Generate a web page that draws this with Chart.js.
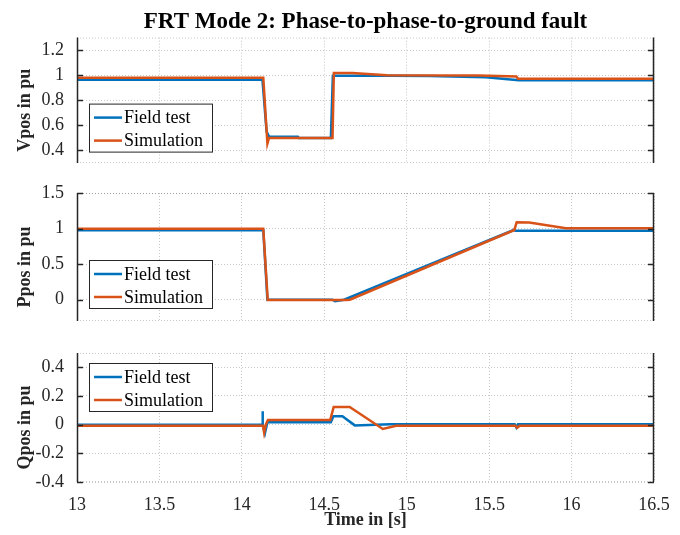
<!DOCTYPE html>
<html>
<head>
<meta charset="utf-8">
<script src="https://cdn.jsdelivr.net/npm/chart.js@4.4.0/dist/chart.umd.min.js"></script>
<style>
body { margin: 0; background: #fff; }
#wrap { position: relative; width: 680px; height: 535px; }
canvas { position: absolute; left: 0; }
</style>
</head>
<body>
<div id="wrap">
  <canvas id="cV" width="680" height="170" style="top:0px"></canvas>
  <canvas id="cP" width="680" height="150" style="top:180px"></canvas>
  <canvas id="cQ" width="680" height="195" style="top:340px"></canvas>
</div>
<script>
// time axis
var timeTicks = [13, 13.5, 14, 14.5, 15, 15.5, 16, 16.5];
var seriesNames = ['Field test', 'Simulation'];

// Vpos (pu)
var vFieldT = [13, 14.125, 14.15, 14.165, 14.34, 14.345, 14.54, 14.552, 14.9, 15.14, 15.48, 15.68, 16.5];
var vFieldY = [0.963, 0.963, 0.55, 0.51, 0.51, 0.5, 0.5, 0.995, 0.995, 0.994, 0.984, 0.96, 0.96];
var vSimT = [13, 14.13, 14.155, 14.165, 14.55, 14.558, 14.67, 14.88, 15.44, 15.665, 15.675, 16.5];
var vSimY = [0.98, 0.98, 0.455, 0.5, 0.5, 1.018, 1.018, 1.0, 0.997, 0.99, 0.972, 0.972];
var vTicks = [0.4, 0.6, 0.8, 1, 1.2];

// Ppos (pu)
var pFieldT = [13, 14.13, 14.155, 14.55, 14.565, 14.62, 15.65, 15.66, 16.5];
var pFieldY = [0.975, 0.975, 0, 0, -0.02, 0, 0.98, 0.97, 0.97];
var pSimT = [13, 14.13, 14.157, 14.63, 14.655, 15.653, 15.667, 15.743, 15.966, 16.5];
var pSimY = [0.997, 0.997, -0.005, -0.005, 0, 0.98, 1.09, 1.085, 1.005, 1.005];
var pTicks = [0, 0.5, 1, 1.5];

// Qpos (pu)
var qFieldT = [13, 14.123, 14.125, 14.128, 14.14, 14.155, 14.54, 14.555, 14.61, 14.685, 14.9, 15.655, 15.665, 15.675, 16.5];
var qFieldY = [0, 0, 0.093, 0, -0.06, 0.017, 0.017, 0.058, 0.058, -0.005, 0.003, 0.003, -0.02, 0.003, 0.003];
var qSimT = [13, 14.128, 14.135, 14.145, 14.158, 14.536, 14.557, 14.654, 14.855, 14.936, 15.66, 15.67, 15.685, 16.5];
var qSimY = [-0.007, -0.007, -0.056, 0, 0.032, 0.032, 0.124, 0.124, -0.03, -0.008, -0.008, -0.022, -0.008, -0.008];
var qTicks = [-0.4, -0.2, 0, 0.2, 0.4];

var blue = '#0072BD';
var orange = '#D95319';
var axisColor = '#262626';
var gridColor = 'rgba(0,0,0,0.22)';
var serif = "'Liberation Serif', 'Times New Roman', serif";

function pts(t, y)
{
    return t.map(function(v, i) { return {x: v, y: y[i]}; });
}

function fmt(v)
{
    return String(+v.toFixed(2));
}

// MATLAB look: solid left/right axes, dotted top/bottom, inward ticks, ylabel, boxed legend
var matlabAxes = {
    id: 'matlabAxes',
    afterDraw: function(chart, args, opts)
    {
        var ctx = chart.ctx;
        var a = chart.chartArea;
        var ys = chart.scales.y;
        ctx.save();

        ctx.strokeStyle = gridColor;
        ctx.lineWidth = 1;
        ctx.setLineDash([1, 2]);
        ctx.beginPath();
        ctx.moveTo(a.left, a.top + 0.5); ctx.lineTo(a.right, a.top + 0.5);
        ctx.moveTo(a.left, a.bottom - 0.5); ctx.lineTo(a.right, a.bottom - 0.5);
        ctx.stroke();
        ctx.setLineDash([]);

        ctx.strokeStyle = axisColor;
        ctx.lineWidth = 1.5;
        ctx.beginPath();
        ctx.moveTo(a.left + 0.5, a.top); ctx.lineTo(a.left + 0.5, a.bottom);
        ctx.moveTo(a.right - 0.5, a.top); ctx.lineTo(a.right - 0.5, a.bottom);
        ys.ticks.forEach(function(t) {
            var py = Math.round(ys.getPixelForValue(t.value)) + 0.5;
            ctx.moveTo(a.left, py); ctx.lineTo(a.left + 6, py);
            ctx.moveTo(a.right, py); ctx.lineTo(a.right - 6, py);
        });
        ctx.stroke();

        // y label
        ctx.save();
        ctx.translate(opts.labelX, (a.top + a.bottom) / 2 + opts.labelShift);
        ctx.rotate(-Math.PI / 2);
        ctx.fillStyle = axisColor;
        ctx.font = 'bold 18px ' + serif;
        ctx.textAlign = 'center';
        ctx.textBaseline = 'middle';
        ctx.fillText(opts.ylabel, 0, 0);
        ctx.restore();

        // legend box
        var lx = a.left + 12, ly = a.top + opts.legendTop, lw = 123, lh = 48;
        ctx.fillStyle = '#fff';
        ctx.fillRect(lx, ly, lw, lh);
        ctx.strokeStyle = axisColor;
        ctx.lineWidth = 1;
        ctx.strokeRect(lx + 0.5, ly + 0.5, lw, lh);
        var cols = [blue, orange];
        ctx.font = '18px ' + serif;
        ctx.textBaseline = 'middle';
        ctx.textAlign = 'left';
        seriesNames.forEach(function(name, i) {
            var cy = ly + 14 + i * 23;
            ctx.strokeStyle = cols[i];
            ctx.lineWidth = 2.5;
            ctx.beginPath();
            ctx.moveTo(lx + 5, cy); ctx.lineTo(lx + 33, cy);
            ctx.stroke();
            ctx.fillStyle = '#000';
            ctx.fillText(name, lx + 35, cy + 1);
        });
        ctx.restore();
    }
};

function makeChart(id, fT, fY, sT, sY, yMin, yMax, yTicks, opts)
{
    var last = opts.last;
    var ctx = document.getElementById(id).getContext('2d');
    return new Chart(ctx, {
        type: 'line',
        data: {
            datasets: [{
                label: seriesNames[1],
                data: pts(sT, sY),
                borderColor: orange,
                borderWidth: 2.5,
                pointRadius: 0,
                tension: 0
            }, {
                label: seriesNames[0],
                data: pts(fT, fY),
                borderColor: blue,
                borderWidth: 2.5,
                pointRadius: 0,
                tension: 0
            }]
        },
        options: {
            responsive: false,
            animation: false,
            layout: { padding: opts.padding },
            plugins: {
                legend: { display: false },
                tooltip: { enabled: false },
                title: {
                    display: !!opts.title,
                    text: opts.title,
                    fullSize: false,
                    color: '#000',
                    font: { family: serif, size: 23, weight: 'bold' },
                    padding: { top: 8, bottom: 2 }
                },
                matlabAxes: {
                    ylabel: opts.ylabel,
                    labelX: 25,
                    labelShift: 10,
                    legendTop: opts.legendTop
                }
            },
            scales: {
                x: {
                    type: 'linear',
                    min: 13,
                    max: 16.5,
                    afterBuildTicks: function(s) { s.ticks = timeTicks.map(function(v) { return {value: v}; }); },
                    afterFit: function(s) {
                        s.height = last ? 53 : 0;
                        s.paddingLeft = 0; s.paddingRight = 0;
                        s.paddingTop = 0; s.paddingBottom = 0;
                    },
                    border: { display: false, dash: [1, 2] },
                    grid: { color: gridColor, drawTicks: false },
                    ticks: {
                        display: last,
                        padding: 12,
                        color: axisColor,
                        font: { family: serif, size: 18 },
                        callback: fmt
                    },
                    title: {
                        display: last,
                        text: 'Time in [s]',
                        color: axisColor,
                        font: { family: serif, size: 18, weight: 'bold' },
                        padding: { top: 0, bottom: 4 }
                    }
                },
                y: {
                    min: yMin,
                    max: yMax,
                    afterBuildTicks: function(s) { s.ticks = yTicks.map(function(v) { return {value: v}; }); },
                    afterFit: function(s) {
                        s.width = 77;
                        s.paddingTop = 0; s.paddingBottom = 0;
                        s.paddingLeft = 0; s.paddingRight = 0;
                    },
                    border: { display: false, dash: [1, 2] },
                    grid: { color: gridColor, drawTicks: false },
                    ticks: {
                        padding: 13,
                        color: axisColor,
                        font: { family: serif, size: 18 },
                        callback: fmt
                    }
                }
            }
        },
        plugins: [matlabAxes]
    });
}

makeChart('cV', vFieldT, vFieldY, vSimT, vSimY, 0.3, 1.3, vTicks, {
    title: 'FRT Mode 2: Phase-to-phase-to-ground fault',
    ylabel: 'Vpos in pu',
    legendTop: 66,
    padding: { top: 0, right: 26, bottom: 7, left: 0 },
    last: false
});
makeChart('cP', pFieldT, pFieldY, pSimT, pSimY, -0.3, 1.5, pTicks, {
    ylabel: 'Ppos in pu',
    legendTop: 67,
    padding: { top: 13, right: 26, bottom: 9, left: 0 },
    last: false
});
makeChart('cQ', qFieldT, qFieldY, qSimT, qSimY, -0.4, 0.5, qTicks, {
    ylabel: 'Qpos in pu',
    legendTop: 10,
    padding: { top: 13, right: 26, bottom: 0, left: 0 },
    last: true
});
</script>
</body>
</html>
